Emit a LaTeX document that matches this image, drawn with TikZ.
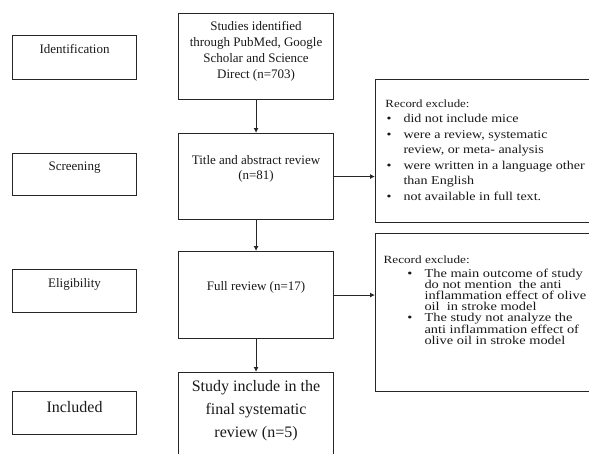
\documentclass[tikz,border=0pt]{standalone}
\usepackage{fontspec}
\usepackage{graphicx}
\setmainfont{Liberation Serif}
\usetikzlibrary{arrows.meta}
\newcommand{\boxtext}[4]{\parbox[c][#2pt][t]{#1pt}{\vspace*{#3pt}\centering #4\par}}
\newcommand{\bitem}[3]{{\leftskip=#1\relax\noindent\llap{\makebox[#2][l]{\textbullet}}#3\par}}
\begin{document}
\begin{tikzpicture}[x=1pt,y=-1pt,
  box/.style={draw=black!85, line width=1.1pt, inner sep=0pt, anchor=north west, text=black!90},
  arr/.style={draw=black!85, line width=1.1pt, -{Latex[length=5pt,width=5pt]}}]
\useasboundingbox (0,0) rectangle (589,453);
\clip (0,0) rectangle (589,453);
% stage labels
\node[box] (ident) at (12,35) {\boxtext{124}{44}{9}{\fontsize{13}{16}\selectfont Identification}};
\node[box] (screen) at (12,153) {\boxtext{124}{42}{8}{\fontsize{13}{16}\selectfont Screening}};
\node[box] (elig) at (12,269) {\boxtext{124}{43}{9}{\fontsize{13}{16}\selectfont Eligibility}};
\node[box] (incl) at (12,391) {\boxtext{124}{43}{10}{\fontsize{16}{19}\selectfont Included}};
% main flow
\node[box] (studies) at (178,13) {\boxtext{155}{86}{8}{\fontsize{13}{16}\selectfont Studies identified\\ through PubMed, Google\\ Scholar and Science\\ Direct (n=703)}};
\node[box] (title) at (178,133) {\boxtext{155}{86}{22}{\fontsize{13}{14.5}\selectfont Title and abstract review\\ (n=81)}};
\node[box] (full) at (178,251) {\boxtext{155}{87}{30}{\fontsize{13}{16}\selectfont Full review (n=17)}};
\node[box] (final) at (178,372) {\boxtext{155}{95}{8}{\fontsize{16}{23}\selectfont Study include in the\\ final systematic\\ review (n=5)}};
% exclusion boxes
\node[box] (rec1) at (375,79) {\scalebox{1.17}[1]{\parbox[c][143pt][t]{188pt}{\vspace*{20pt}\raggedright\fontsize{12}{15.5}\selectfont
{\noindent\hspace*{8.5pt}\fontsize{11}{15.5}\selectfont Record exclude:\par}
\bitem{23.9pt}{14.5pt}{did not include mice}
\bitem{23.9pt}{14.5pt}{were a review, systematic\\ review, or meta- analysis}
\bitem{23.9pt}{14.5pt}{were written in a language other\\ than English}
\bitem{23.9pt}{14.5pt}{not available in full text.}
}}};
\node[box] (rec2) at (375,233) {\scalebox{1.2}[1]{\parbox[c][158pt][t]{183pt}{\vspace*{22pt}\raggedright\fontsize{12}{11}\selectfont
{\noindent\hspace*{6.7pt}\fontsize{11}{11}\selectfont Record exclude:\par}
\vspace{3pt}
\bitem{40.8pt}{14.2pt}{The main outcome of study\\ do not mention\ \ the anti\\ inflammation effect of olive\\ oil\ \ in stroke model}
\bitem{40.8pt}{14.2pt}{The study not analyze the\\ anti inflammation effect of\\ olive oil in stroke model}
}}};
% connectors
\draw[arr] (studies.south) -- (title.north);
\draw[arr] (title.south) -- (full.north);
\draw[arr] (full.south) -- (final.north);
\draw[arr] (title.east) -- (title.east -| rec1.west);
\draw[arr] (full.east) -- (full.east -| rec2.west);
\end{tikzpicture}
\end{document}
